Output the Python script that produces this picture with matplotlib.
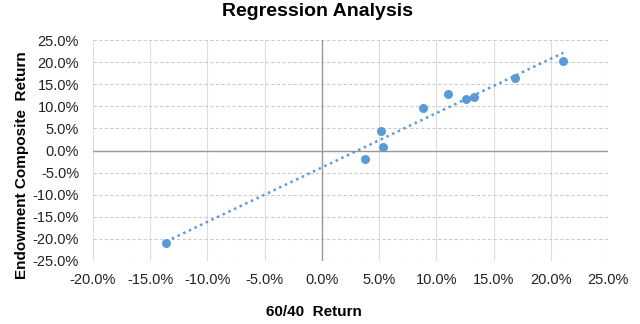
import matplotlib.pyplot as plt
import numpy as np
from matplotlib.ticker import PercentFormatter

plt.rcParams['font.family'] = ['Liberation Sans', 'DejaVu Sans']
plt.rcParams['axes.unicode_minus'] = False

# 60/40 return vs endowment composite return (percent)
x_vals = [-13.6, 3.8, 5.2, 5.3, 8.8, 11.0, 12.6, 13.3, 16.9, 21.1]
y_vals = [-20.9, -2.0, 4.3, 0.9, 9.7, 12.8, 11.7, 12.2, 16.5, 20.2]

color = "#5B9BD5"

fig = plt.figure(figsize=(6.4, 3.24), dpi=100)
ax = fig.add_axes([93 / 640, 1 - 261 / 324, 515 / 640, 221 / 324])

ax.set_xlim(-20, 25)
ax.set_ylim(-25, 25)
ax.set_xticks(np.arange(-20, 26, 5))
ax.set_yticks(np.arange(-25, 26, 5))
ax.xaxis.set_major_formatter(PercentFormatter(decimals=1))
ax.yaxis.set_major_formatter(PercentFormatter(decimals=1))

for s in ax.spines.values():
    s.set_visible(False)
ax.tick_params(length=0, labelsize=10.5, colors="#222222")
ax.tick_params(axis="x", pad=9)
ax.tick_params(axis="y", pad=10)

# gridlines: vertical solid, horizontal dashed
for xv in ax.get_xticks():
    ax.axvline(xv, color="#dddddd", lw=0.8, zorder=0)
for yv in ax.get_yticks():
    ax.axhline(yv, color="#cccccc", lw=0.8, ls=(0, (3, 2)), zorder=0)
ax.axhline(0, color="#999999", lw=1.0, zorder=1)
ax.axvline(0, color="#999999", lw=1.0, zorder=1)

# linear trendline
slope, intercept = np.polyfit(x_vals, y_vals, 1)
xt = np.array([min(x_vals), max(x_vals)])
ax.plot(xt, slope * xt + intercept, ls=(0, (1, 1.5)), color=color, lw=1.8, zorder=2)

ax.scatter(x_vals, y_vals, s=42, color=color, zorder=3, linewidths=0)

fig.text(318 / 640, 1 - 12 / 324, "Regression Analysis", fontsize=14,
         fontweight="bold", ha="center", va="center")
fig.text(314 / 640, 1 - 312 / 324, "60/40  Return", fontsize=11,
         fontweight="bold", ha="center", va="center")
fig.text(22 / 640, 1 - 165 / 324, "Endowment Composite  Return", fontsize=11,
         fontweight="bold", ha="center", va="center", rotation=90)

fig.savefig("out.png", dpi=100)
